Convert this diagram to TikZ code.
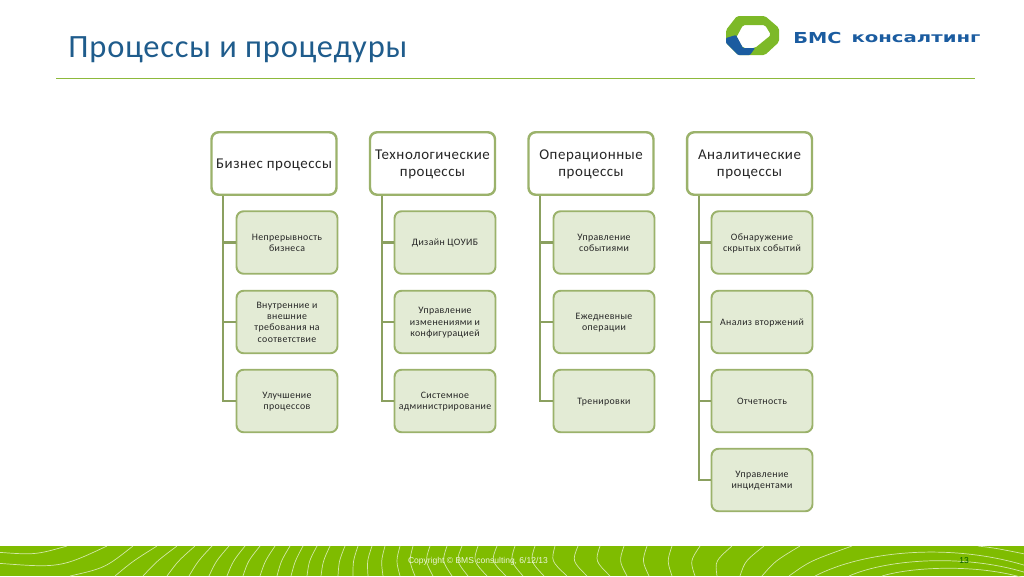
\documentclass[tikz,border=0pt]{standalone}
\usepackage{fontspec}
\setmainfont{Carlito}
\newfontfamily\titlefont[LetterSpace=2.6]{Carlito}
\newfontfamily\headfont[LetterSpace=3.6]{Carlito}
\newfontfamily\itemfont[LetterSpace=3.8]{Carlito}
\newfontfamily\footfont{Liberation Sans}
\newfontfamily\logofont{DejaVu Sans}
\usetikzlibrary{positioning}
\definecolor{titleblue}{HTML}{1F5C8C}
\definecolor{rulegreen}{HTML}{8DB93B}
\definecolor{boxline}{HTML}{9BB26B}
\definecolor{boxfill}{HTML}{E3EBD5}
\definecolor{footgreen}{HTML}{7FBC00}
\definecolor{logogreen}{HTML}{7DB928}
\definecolor{logoblue}{HTML}{1B5CA0}
\tikzset{head/.style={draw=boxline,fill=white,line width=1.4pt,rounded corners=4pt,
  minimum width=2.5cm,minimum height=1.25cm,inner sep=0pt,align=center,
  font=\headfont\fontsize{8.5}{9.6}\selectfont,text=black!85,text depth=-1.4pt},
 headtwo/.style={head,text depth=-3.6pt},
 item/.style={draw=boxline,fill=boxfill,line width=1.1pt,rounded corners=4pt,
  minimum width=2.02cm,minimum height=1.25cm,inner sep=0pt,align=center,
  font=\itemfont\fontsize{5.6}{6.4}\selectfont,text=black!85,text depth=-.5pt},
 link/.style={draw=boxline!90!black,line width=1.2pt},
 swirl/.style={draw=white!65!footgreen,line width=.4pt},
}

\begin{document}
\begin{tikzpicture}[x=.02cm,y=-.02cm]
        \useasboundingbox (0,0) rectangle (1024,576);
        % footer
        \fill[footgreen] (0,546) rectangle (1024,576);
        \begin{scope}
            \clip (0,546) rectangle (1024,576);
            \foreach \tx/\bx/\mx in {157/115/133,177/143/157,195/167/178,212/189/198,229/209/216,245/227/233,
                260/243/248,275/260/265,290/277/281,303/291/295,317/307/309,330/321/323,
                345/338/339,358/353/353,372/368/367,385/383/381,400/400/396,413/415/409,
                430/433/425,447/452/442,462/468/456,478/487/473,497/506/491,515/523/510,
                535/544/530,555/567/551,578/587/572,600/610/595,624/627/619,647/649/642,
                672/672/667,700/695/690,732/717/715,764/740/745,800/762/775,852/789/810}
                \draw[swirl] (\tx,546) .. controls (\mx,561) .. (\bx,576);
            \draw[swirl] (-5,552) .. controls (35,555) .. (67,546);
            \draw[swirl] (-5,563) .. controls (60,568) .. (107,546);
            \draw[swirl] (70,576) .. controls (105,568) .. (133,546);
            \draw[swirl] (815,576) .. controls (870,548) and (960,544) .. (1030,567);
            \draw[swirl] (849,576) .. controls (890,558) and (970,554) .. (1030,574);
            \draw[swirl] (882,576) .. controls (915,566) and (985,564) .. (1030,580);
            \draw[swirl] (978,546) .. controls (995,548) .. (1030,555);
        \end{scope}
        \node[font=\footfont\fontsize{4.85}{6}\selectfont,text=white!85!footgreen] (copy) at (478,561) {Copyright © BMS consulting, 6/12/13};
        \node[font=\footfont\fontsize{4.85}{6}\selectfont,text=green!35!black] (page) at (964,561) {13};
        % title and logo
        \node[anchor=west,inner sep=0pt,font=\titlefont\fontsize{18.5}{22}\selectfont,text=titleblue] (title) at (68,49.5) {Процессы и процедуры};
        \draw[rulegreen,line width=.7pt] (56,78.5) -- (975,78.5);
        \fill[logogreen,even odd rule,rounded corners=1pt] (737,16) -- (765,16) -- (779,28) -- (779,42) -- (765,55) -- (738,55) -- (726,43) -- (726,30) -- cycle
            (743,25) -- (765,25) -- (771,35) -- (755,48) -- (743,48) -- (736,38) -- cycle;
        \fill[logoblue,rounded corners=.5pt] (726,38) -- (736,35) -- (743,48) -- (755,48) -- (750,55) -- (738,55) -- (726,43) -- cycle;
        \node[anchor=west,inner sep=0pt,xscale=1.28,font=\logofont\bfseries\fontsize{8.6}{10}\selectfont,text=logoblue] (logoa) at (793,37.5) {БМС};
        \node[anchor=west,inner sep=0pt,xscale=1.4,font=\logofont\bfseries\fontsize{8}{10}\selectfont,text=logoblue] (logob) at (851,39) {консалтинг};
        % business
        \node[head] (biz) at (274,163.5) {Бизнес процессы};
        \node[item] (biza) at (287,242.5) {Непрерывность\\бизнеса};
        \node[item] (bizb) at (287,322) {Внутренние и\\внешние\\требования на\\соответствие};
        \node[item] (bizc) at (287,401) {Улучшение\\процессов};
        \draw[link] (biz.south west) ++(13,0) coordinate (bizt) |- (bizc.west);
        \draw[link] (bizt |- biza.west) -- (biza.west);
        \draw[link] (bizt |- bizb.west) -- (bizb.west);
        % technology
        \node[headtwo] (tech) at (432.5,163.5) {Технологические\\процессы};
        \node[item] (techa) at (445,242.5) {Дизайн ЦОУИБ};
        \node[item] (techb) at (445,322) {Управление\\изменениями и\\конфигурацией};
        \node[item] (techc) at (445,401) {Системное\\администрирование};
        \draw[link] (tech.south west) ++(13,0) coordinate (techt) |- (techc.west);
        \draw[link] (techt |- techa.west) -- (techa.west);
        \draw[link] (techt |- techb.west) -- (techb.west);
        % operations
        \node[headtwo] (oper) at (591,163.5) {Операционные\\процессы};
        \node[item] (opera) at (604,242.5) {Управление\\событиями};
        \node[item] (operb) at (604,322) {Ежедневные\\операции};
        \node[item] (operc) at (604,401) {Тренировки};
        \draw[link] (oper.south west) ++(13,0) coordinate (opert) |- (operc.west);
        \draw[link] (opert |- opera.west) -- (opera.west);
        \draw[link] (opert |- operb.west) -- (operb.west);
        % analytics
        \node[headtwo] (anal) at (749.5,163.5) {Аналитические\\процессы};
        \node[item] (anala) at (762,242.5) {Обнаружение\\скрытых событий};
        \node[item] (analb) at (762,322) {Анализ вторжений};
        \node[item] (analc) at (762,401) {Отчетность};
        \node[item] (anald) at (762,480) {Управление\\инцидентами};
        \draw[link] (anal.south west) ++(13,0) coordinate (analt) |- (anald.west);
        \draw[link] (analt |- anala.west) -- (anala.west);
        \draw[link] (analt |- analb.west) -- (analb.west);
        \draw[link] (analt |- analc.west) -- (analc.west);
    \end{tikzpicture}
\end{document}
